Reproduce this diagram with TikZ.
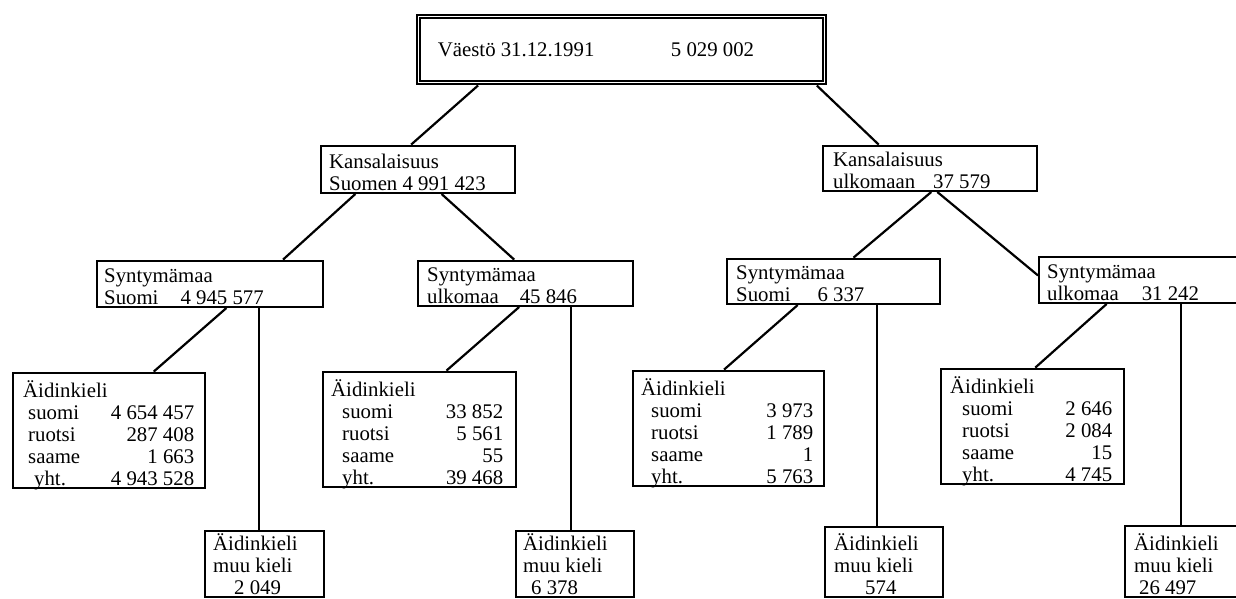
\documentclass[tikz,border=0pt]{standalone}
\usepackage{fontspec}
\setmainfont{Liberation Serif}
\usetikzlibrary{positioning}
\usetikzlibrary{calc}
\newcommand{\teksti}[2]{\makebox[#1][l]{\begin{tabular}[b]{@{}l@{}}#2\end{tabular}}}
\newcommand{\kielet}[8]{% width, indent, indent of yht., four numbers, right pad
  \begin{tabular}[b]{@{}l@{\hspace{#8}}}
    Äidinkieli\\
    \makebox[#1][s]{\hspace*{#2}suomi\hfill #4}\\
    \makebox[#1][s]{\hspace*{#2}ruotsi\hfill #5}\\
    \makebox[#1][s]{\hspace*{#2}saame\hfill #6}\\
    \makebox[#1][s]{\hspace*{#3}yht.\hfill #7}
  \end{tabular}}
\tikzset{
    mybox/.style = {rectangle, draw=black, line width=1.2pt, anchor=south west, inner ysep=1pt, text depth=0pt},
    mytop/.style = {rectangle, draw=black, line width=0.9pt, double=white, double distance=0.8pt, anchor=south west, inner sep=0pt, minimum height=33pt},
    edgen/.style = {draw=black, line width=1.1pt},
    every picture/.style={font issue=\fontsize{10.4pt}{11pt}},
    font issue/.style={execute at begin picture={#1\selectfont}}
}
\begin{document}
\begin{tikzpicture}[x=0.5pt,y=-0.5pt]
\useasboundingbox (0,0) rectangle (1236,599);
\clip (0,0) rectangle (1236,599);
%
\node[mytop] at (417.5,83.5) (top) {\makebox[203pt][l]{\hspace*{9.75pt}\makebox[116.5pt][l]{Väestö 31.12.1991}5 029 002}};
%
\node[mybox, inner xsep=4pt, text height=21.5pt] at (320,194) (ksu) {\teksti{89pt}{Kansalaisuus\\Suomen 4 991 423}};
\node[mybox, inner xsep=5pt, text height=20.5pt] at (822,192) (kul) {\teksti{97pt}{Kansalaisuus\\ulkomaan\hspace{9pt}37 579}};
%
\node[mybox, inner xsep=3.5pt, text height=21pt] at (96,308) (ssu1) {\teksti{106pt}{Syntymämaa\\Suomi\hspace{11pt}4 945 577}};
\node[mybox, inner xsep=4.5pt, text height=20.5pt] at (417,307) (sul1) {\teksti{98.5pt}{Syntymämaa\\ulkomaa\hspace{10.5pt}45 846}};
\node[mybox, inner xsep=4.5pt, text height=20.5pt] at (726,305) (ssu2) {\teksti{97.5pt}{Syntymämaa\\Suomi\hspace{13.5pt}6 337}};
\node[mybox, inner xsep=4pt, text height=21pt] at (1038,304) (sul2) {\teksti{98pt}{Syntymämaa\\ulkomaa\hspace{11.5pt}31 242}};
%
\node[mybox, inner xsep=5pt, text height=55.5pt] at (12,489) (a1) {\kielet{85.5pt}{2.5pt}{5.5pt}{4 654 457}{287 408}{1 663}{4 943 528}{0.5pt}};
\node[mybox, inner xsep=4pt, text height=55.5pt] at (322,488) (a2) {\kielet{86pt}{5.5pt}{5.5pt}{33 852}{5 561}{55}{39 468}{2.5pt}};
\node[mybox, inner xsep=4pt, text height=55.5pt] at (632,487) (a3) {\kielet{86pt}{5pt}{5pt}{3 973}{1 789}{1}{5 763}{1.5pt}};
\node[mybox, inner xsep=4.5pt, text height=55.5pt] at (940,485) (a4) {\kielet{81pt}{6pt}{6pt}{2 646}{2 084}{15}{4 745}{1.5pt}};
%
\node[mybox, inner xsep=4pt, text height=31pt] at (204,598) (m1) {\teksti{51.5pt}{Äidinkieli\\muu kieli\\\hspace*{10.5pt}2 049}};
\node[mybox, inner xsep=3.5pt, text height=31pt] at (515,598) (m2) {\teksti{52pt}{Äidinkieli\\muu kieli\\\hspace*{4pt}6 378}};
\node[mybox, inner xsep=4.5pt, text height=33pt] at (824,598) (m3) {\teksti{50pt}{Äidinkieli\\muu kieli\\\hspace*{15.5pt}574}};
\node[mybox, inner xsep=4.5pt, text height=33.5pt] at (1124,598) (m4) {\teksti{50.5pt}{Äidinkieli\\muu kieli\\\hspace*{2.5pt}26 497}};
%
\draw[edgen, shorten <=1.5pt] ($(top.south west)!0.154!(top.south east)$) -- ($(ksu.north west)!0.464!(ksu.north east)$);
\draw[edgen, shorten <=1.5pt] ($(top.south west)!0.974!(top.south east)$) -- ($(kul.north west)!0.262!(kul.north east)$);
\draw[edgen] ($(ksu.south west)!0.18!(ksu.south east)$) -- ($(ssu1.north west)!0.819!(ssu1.north east)$);
\draw[edgen] ($(ksu.south west)!0.619!(ksu.south east)$) -- ($(sul1.north west)!0.447!(sul1.north east)$);
\draw[edgen] ($(kul.south west)!0.505!(kul.south east)$) -- ($(ssu2.north west)!0.592!(ssu2.north east)$);
\draw[edgen] ($(kul.south west)!0.533!(kul.south east)$) -- ($(sul2.north west)!0.41!(sul2.south west)$);
\draw[edgen] ($(ssu1.south west)!0.571!(ssu1.south east)$) -- ($(a1.north west)!0.729!(a1.north east)$);
\draw[edgen] ($(sul1.south west)!0.47!(sul1.south east)$) -- ($(a2.north west)!0.637!(a2.north east)$);
\draw[edgen] ($(ssu2.south west)!0.333!(ssu2.south east)$) -- ($(a3.north west)!0.476!(a3.north east)$);
\draw[edgen] ($(sul2.south west)!0.32!(sul2.south east)$) -- ($(a4.north west)!0.514!(a4.north east)$);
%
\draw[edgen] ([xshift=-2.75pt]m1.north) -- ([xshift=-2.75pt]m1.north |- ssu1.south);
\draw[edgen] ([xshift=-2pt]m2.north) -- ([xshift=-2pt]m2.north |- sul1.south);
\draw[edgen] ([xshift=-3.5pt]m3.north) -- ([xshift=-3.5pt]m3.north |- ssu2.south);
\draw[edgen] ([xshift=-1.75pt]m4.north) -- ([xshift=-1.75pt]m4.north |- sul2.south);

\end{tikzpicture}
\end{document}
